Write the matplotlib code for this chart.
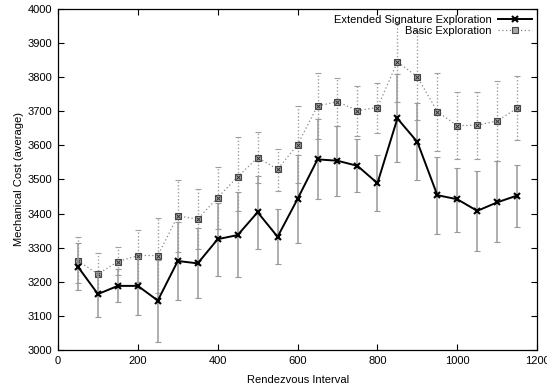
import matplotlib
matplotlib.use("Agg")
import matplotlib.pyplot as plt
import numpy as np

plt.rcParams['font.family'] = ['Liberation Sans', 'DejaVu Sans']
plt.rcParams['font.size'] = 8

interval = [50, 100, 150, 200, 250, 300, 350, 400, 450, 500, 550, 600,
            650, 700, 750, 800, 850, 900, 950, 1000, 1050, 1100, 1150]

ext_mean = [3244, 3164, 3188, 3188, 3145, 3261, 3254, 3325, 3337, 3404, 3332, 3443,
            3559, 3555, 3540, 3489, 3679, 3610, 3454, 3442, 3408, 3433, 3453]
ext_low = [3176, 3098, 3141, 3104, 3023, 3147, 3153, 3217, 3215, 3296, 3251, 3315,
           3442, 3452, 3462, 3408, 3552, 3499, 3340, 3346, 3290, 3316, 3361]
ext_high = [3313, 3228, 3237, 3270, 3265, 3376, 3357, 3432, 3462, 3510, 3413, 3572,
            3677, 3658, 3618, 3571, 3808, 3723, 3567, 3535, 3524, 3554, 3543]

basic_mean = [3261, 3223, 3259, 3277, 3277, 3393, 3384, 3447, 3508, 3564, 3530, 3602,
              3716, 3728, 3702, 3711, 3845, 3801, 3699, 3658, 3659, 3672, 3709]
basic_low = [3196, 3160, 3220, 3200, 3166, 3288, 3295, 3354, 3409, 3489, 3467, 3490,
             3618, 3658, 3628, 3637, 3727, 3674, 3585, 3560, 3560, 3554, 3616]
basic_high = [3330, 3283, 3301, 3352, 3386, 3499, 3472, 3538, 3624, 3640, 3590, 3716,
              3813, 3799, 3774, 3784, 3960, 3935, 3813, 3757, 3758, 3789, 3804]

fig = plt.figure(figsize=(5.47, 3.86), dpi=100)
ax = fig.add_axes([0.106, 0.0933, 0.876, 0.8834])

x = np.array(interval)

def yerr(mean, low, high):
    m = np.array(mean)
    return [m - np.array(low), np.array(high) - m]

# Basic exploration: dotted grey line with square markers
b = ax.errorbar(x, basic_mean, yerr=yerr(basic_mean, basic_low, basic_high),
                fmt='none', ecolor='#a0a0a0', elinewidth=1.0, capsize=2.5,
                capthick=0.8, zorder=2)
for lc in b[2]:
    lc.set_linestyle((0, (1, 1.5)))
basic_line, = ax.plot(x, basic_mean, linestyle=(0, (1, 2)), color='#888888',
                      linewidth=0.9, marker='s', markersize=5,
                      markerfacecolor='#a8a8a8', markeredgecolor='#444444',
                      markeredgewidth=0.8, zorder=3, label='Basic Exploration')
ax.plot(x, basic_mean, linestyle='none', marker='x', markersize=3,
        color='#333333', markeredgewidth=0.7, zorder=4)

# Extended signature exploration: solid black line with x markers
e = ax.errorbar(x, ext_mean, yerr=yerr(ext_mean, ext_low, ext_high),
                fmt='none', ecolor='#999999', elinewidth=1.1, capsize=2.5,
                capthick=0.8, zorder=4)
ext_line, = ax.plot(x, ext_mean, linestyle='-', color='black', linewidth=1.4,
                    marker='x', markersize=5, markeredgewidth=1.5, zorder=5,
                    label='Extended Signature Exploration')

ax.set_xlim(0, 1200)
ax.set_ylim(3000, 4000)
ax.set_xticks(np.arange(0, 1201, 200))
ax.set_yticks(np.arange(3000, 4001, 100))
ax.tick_params(direction='in', top=True, right=True, length=4, width=0.8,
               labelsize=8, pad=4)
for s in ax.spines.values():
    s.set_linewidth(0.9)

ax.set_xlabel('Rendezvous Interval', fontsize=8, labelpad=7)
ax.set_ylabel('Mechanical Cost (average)', fontsize=8, labelpad=3)

leg = ax.legend(handles=[ext_line, basic_line], loc='upper right',
                frameon=False, markerfirst=False, fontsize=8,
                handlelength=3.0, handletextpad=0.6, labelspacing=0.1,
                borderaxespad=0.2, borderpad=0.3)

fig.savefig('out.png', dpi=100)
